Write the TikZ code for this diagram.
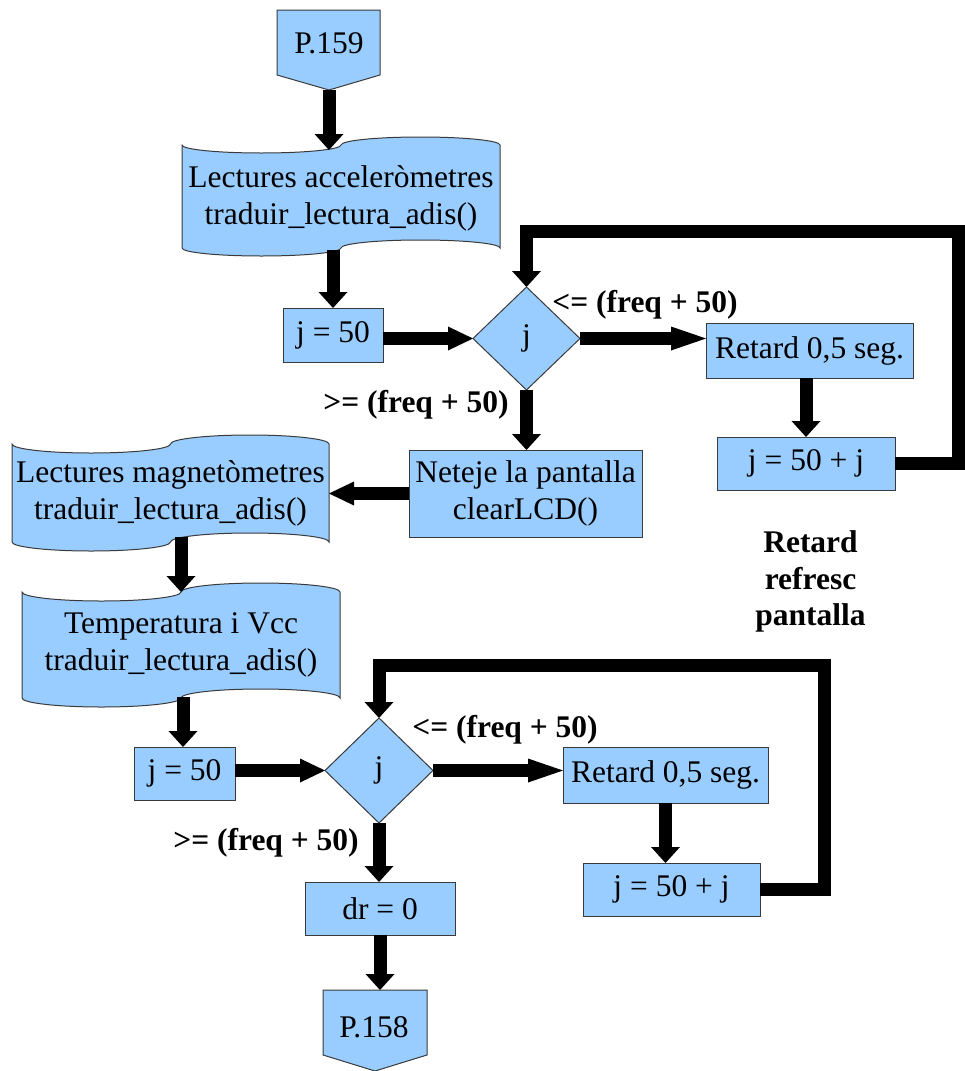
\documentclass[tikz,border=0pt]{standalone}
\usepackage{fontspec}
\setmainfont{Liberation Serif}
\usetikzlibrary{arrows.meta,shapes.geometric}

\definecolor{shapefill}{HTML}{99CCFF}
\definecolor{bordercol}{HTML}{3A3A3A}
\newcommand\flowfont{\fontsize{31.5pt}{37pt}\selectfont}

% punched-tape outline: left, right, top midline, bottom midline, wave amplitude
\newcommand\tapeshape[5]{%
  \pgfmathsetmacro\tpq{(#2-#1)/4}%
  \pgfmathsetmacro\tpk{0.5523*\tpq}%
  \pgfmathsetmacro\tpa{0.5523*#5}%
  \filldraw[tape] (#1,#3)
    .. controls (#1,#3+\tpa) and (#1+\tpq-\tpk,#3+#5) .. (#1+\tpq,#3+#5)
    .. controls (#1+\tpq+\tpk,#3+#5) and (#1+2*\tpq,#3+\tpa) .. (#1+2*\tpq,#3)
    .. controls (#1+2*\tpq,#3-\tpa) and (#1+3*\tpq-\tpk,#3-#5) .. (#1+3*\tpq,#3-#5)
    .. controls (#1+3*\tpq+\tpk,#3-#5) and (#2,#3-\tpa) .. (#2,#3)
    -- (#2,#4)
    .. controls (#2,#4-\tpa) and (#1+3*\tpq+\tpk,#4-#5) .. (#1+3*\tpq,#4-#5)
    .. controls (#1+3*\tpq-\tpk,#4-#5) and (#1+2*\tpq,#4-\tpa) .. (#1+2*\tpq,#4)
    .. controls (#1+2*\tpq,#4+\tpa) and (#1+\tpq+\tpk,#4+#5) .. (#1+\tpq,#4+#5)
    .. controls (#1+\tpq-\tpk,#4+#5) and (#1,#4+\tpa) .. (#1,#4)
    -- cycle;
}

\tikzset{
  tape/.style={draw=bordercol, fill=shapefill, line width=1pt},
  box/.style={draw=bordercol, fill=shapefill, line width=1pt, inner sep=0pt,
    outer sep=0pt, font=\flowfont, align=center},
  dec/.style={box, shape=diamond},
  txt/.style={font=\flowfont, align=center, inner sep=0pt, outer sep=0pt},
  lbl/.style={font=\flowfont\bfseries, align=center, inner sep=0pt},
  flow/.style={draw=black, line width=13pt, line join=miter},
  vflow/.style={flow, -{Triangle[length=16pt,width=29pt,line width=0pt]}},
  hflow/.style={flow, -{Triangle[length=25pt,width=24pt,line width=0pt]}},
  hflowlong/.style={flow, -{Triangle[length=35pt,width=24pt,line width=0pt]}},
}

\begin{document}
\begin{tikzpicture}[x=1pt,y=-1pt]
\useasboundingbox (0,0) rectangle (964,1071);

% off-page connector at the start
\filldraw[tape] (277,10) -- (380,10) -- (380,75) -- (329,90) -- (277,75) -- cycle;
\node[txt] (p159) at (329,43) {P.159};
\coordinate (p159tip) at (329,90);

% reading blocks
\tapeshape{182}{500}{145}{248}{8}
\node[txt, minimum width=318pt] (doc1) at (341,198.5) {Lectures acceleròmetres\\traduir\_lectura\_adis()};
\coordinate (doc1in) at (329,150);
\coordinate (doc1out) at (333,250);

\tapeshape{12}{329}{444}{542}{9}
\node[txt, minimum width=317pt] (doc2) at (170.5,493.5) {Lectures magnetòmetres\\traduir\_lectura\_adis()};
\coordinate (doc2out) at (181,537);

\tapeshape{22}{340}{592}{698}{9}
\node[txt, minimum width=318pt] (doc3) at (181,645) {Temperatura i Vcc\\traduir\_lectura\_adis()};
\coordinate (doc3in) at (181,592);
\coordinate (doc3out) at (183,697);

% first delay loop
\node[box, minimum width=100pt, minimum height=54pt] (j1) at (333,335) {j = 50};
\node[dec, minimum width=107pt, minimum height=103pt] (d1) at (526.5,338.5) {j};
\node[box, minimum width=207pt, minimum height=55pt] (r1) at (809.5,350.5) {Retard 0,5 seg.};
\node[box, minimum width=178pt, minimum height=53pt] (k1) at (806,463.5) {j = 50 + j};
\node[box, minimum width=233pt, minimum height=87pt] (clr) at (525.5,493.5) {Neteje la pantalla\\clearLCD()};
\coordinate (loop1) at (958,231);

% second delay loop
\node[box, minimum width=101pt, minimum height=53pt] (j2) at (184.5,773.5) {j = 50};
\node[dec, minimum width=108pt, minimum height=105pt] (d2) at (379,770.5) {j};
\node[box, minimum width=205pt, minimum height=56pt] (r2) at (665.5,775) {Retard 0,5 seg.};
\node[box, minimum width=177pt, minimum height=53pt] (k2) at (671.5,889.5) {j = 50 + j};
\node[box, minimum width=150pt, minimum height=53pt] (dr) at (380,908.5) {dr = 0};
\coordinate (loop2) at (824,665);

% off-page connector at the end
\filldraw[tape] (323,990) -- (427,990) -- (427,1055) -- (375,1071) -- (323,1055) -- cycle;
\node[txt] (p158) at (374,1027) {P.158};
\coordinate (p158top) at (375,990);

% branch labels
\node[lbl] (le1) at (645,305) {<= (freq + 50)};
\node[lbl] (ge1) at (416,405) {>= (freq + 50)};
\node[lbl] (le2) at (505,730) {<= (freq + 50)};
\node[lbl] (ge2) at (266,843) {>= (freq + 50)};
\node[lbl, font=\fontsize{31.5pt}{36.5pt}\selectfont\bfseries] (note) at (810.5,581.5) {Retard\\refresc\\pantalla};

% connectors
\draw[vflow] (p159tip) -- (doc1in);
\draw[vflow] (doc1out) -- (doc1out |- j1.north);
\draw[hflow] (j1.east |- d1) -- (d1.west);
\draw[hflowlong] (d1.east) -- (d1.east -| r1.west);
\draw[vflow] (k1.north |- r1.south) -- (k1.north);
\draw[vflow] (k1.east) -| (loop1) -| (d1.north);
\draw[vflow] (d1.south) -- (d1.south |- clr.north);
\draw[hflow] (clr.west) -- (clr.west -| doc2.east);
\draw[vflow] (doc2out) -- (doc3in);
\draw[vflow] (doc3out) -- (doc3out |- j2.north);
\draw[hflow] (j2.east |- d2) -- (d2.west);
\draw[hflowlong] (d2.east) -- (d2.east -| r2.west);
\draw[vflow] (r2.south) -- (r2.south |- k2.north);
\draw[vflow] (k2.east) -| (loop2) -| (d2.north);
\draw[vflow] (d2.south) -- (d2.south |- dr.north);
\draw[vflow] (dr.south) -- (dr.south |- p158top);
\end{tikzpicture}
\end{document}
